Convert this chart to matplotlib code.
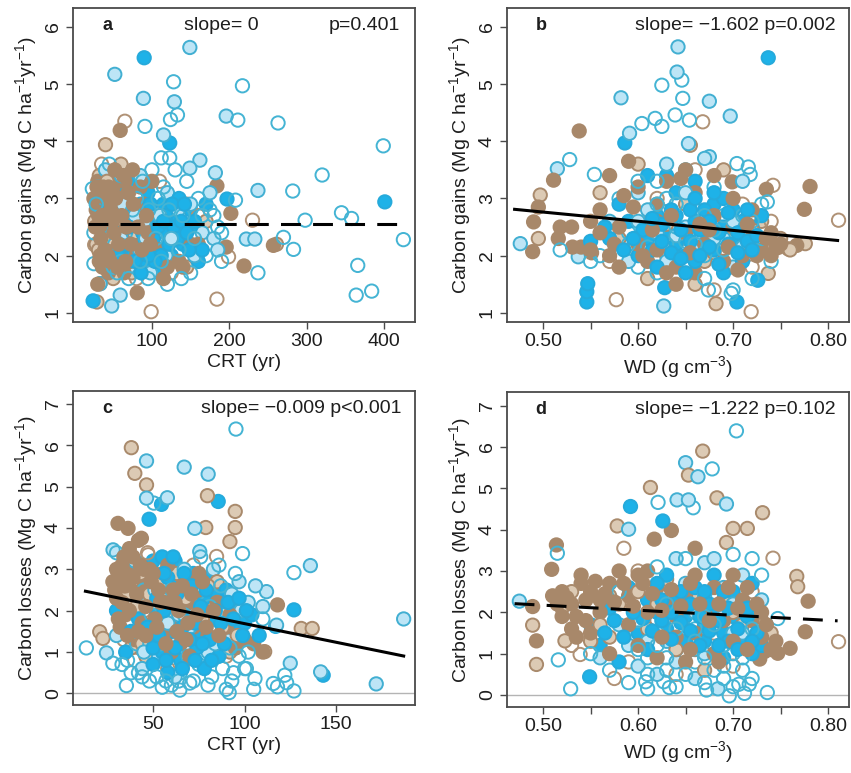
import numpy as np
import matplotlib.pyplot as plt

plt.rcParams['font.family'] = ['Liberation Sans', 'DejaVu Sans']
plt.rcParams['mathtext.fontset'] = 'custom'
plt.rcParams['mathtext.rm'] = 'Liberation Sans'
plt.rcParams['mathtext.it'] = 'Liberation Sans'

# ---- panel a: carbon gains vs CRT ----
a_brown_solid = [(59, 4.19), (184, 3.22), (202, 2.74), (257, 2.18), (196, 2.15), (219, 1.82), (81, 1.35), (33, 1.51),
                 (30, 3.3), (35, 3.1), (40, 2.9), (45, 3.4), (50, 3.2), (55, 3.5), (60, 3.0), (65, 3.3), (70, 2.8),
                 (38, 2.6), (42, 2.4), (48, 2.2), (52, 2.7), (58, 2.5), (62, 2.1), (68, 2.3), (72, 1.9), (78, 2.6),
                 (85, 3.2), (90, 2.9), (33, 2.0), (36, 1.8), (44, 1.7), (28, 2.8), (25, 3.0), (55, 1.9), (64, 1.7),
                 (80, 2.0), (95, 2.4), (110, 2.1), (120, 1.8), (135, 1.9), (150, 2.2), (160, 2.2), (30, 1.5),
                 (75, 3.5), (100, 3.3), (115, 1.6), (140, 1.8),
                 (27, 2.5), (31, 2.7), (34, 2.3), (37, 3.2), (41, 3.0), (43, 2.0), (47, 2.8), (51, 2.4), (53, 3.0),
                 (57, 2.2), (61, 2.7), (63, 3.4), (67, 2.5), (69, 3.1), (73, 2.2), (76, 2.9), (82, 2.5), (87, 2.1),
                 (93, 2.7), (98, 2.2), (32, 1.9), (39, 2.1), (46, 1.9), (56, 1.8), (66, 1.9), (29, 3.2), (44, 3.2),
                 (52, 3.5), (36, 2.7), (49, 2.6)]
a_brown_light = [(40, 3.94), (261, 2.20), (29, 1.19),
                 (32, 3.4), (46, 3.0), (58, 2.8), (40, 2.3), (66, 2.0), (88, 2.2), (105, 2.7), (125, 2.5), (145, 1.8),
                 (28, 2.2), (50, 1.6), (74, 1.7), (98, 1.9), (130, 2.9), (60, 3.6), (170, 2.6),
                 (26, 2.6), (35, 2.8), (45, 2.3), (54, 2.5), (63, 2.4), (77, 2.4), (84, 2.8), (95, 2.1), (42, 3.3),
                 (31, 2.1)]
a_brown_open = [(65, 4.35), (230, 2.62), (199, 1.98), (184, 1.24), (99, 1.02), (26, 2.19),
                (35, 3.6), (48, 2.5), (70, 3.1), (92, 2.0), (110, 3.3), (125, 1.7), (80, 1.6), (145, 2.9),
                (160, 2.7), (40, 1.9), (115, 2.3)]
a_cyan_solid = [(90, 5.46), (123, 3.97), (197, 2.99), (401, 2.94), (24, 1.21),
                (55, 3.2), (72, 3.3), (85, 2.9), (95, 3.1), (105, 2.6), (115, 2.9), (130, 2.7), (140, 2.2),
                (150, 2.8), (160, 1.9), (100, 2.0), (90, 1.8), (80, 2.3), (65, 2.6), (120, 2.4), (135, 3.0),
                (110, 1.7), (170, 2.9), (45, 2.9), (125, 2.0), (95, 2.5), (75, 2.0), (150, 2.5),
                (60, 2.4), (66, 2.2), (74, 2.7), (82, 2.0), (88, 2.4), (92, 2.2), (98, 2.9), (102, 2.3), (108, 2.5),
                (112, 2.0), (118, 2.7), (122, 2.2), (128, 2.5), (133, 2.3), (138, 2.6), (145, 2.4), (155, 2.6),
                (165, 2.1), (78, 1.9), (86, 1.7), (104, 1.9), (115, 2.6), (57, 2.0), (70, 2.5), (96, 2.0),
                (126, 2.9), (142, 2.9), (148, 2.1)]
a_cyan_light = [(52, 5.17), (149, 5.64), (89, 4.75), (129, 4.69), (196, 4.44), (115, 4.11), (162, 3.67),
                (149, 3.53), (182, 3.45), (237, 3.14), (222, 2.29), (233, 2.29), (59, 1.31), (48, 1.12), (33, 1.51),
                (40, 3.5), (60, 3.4), (85, 3.4), (100, 2.8), (120, 3.1), (140, 2.5), (165, 2.4), (180, 2.3),
                (70, 1.8), (110, 2.2), (130, 2.3), (155, 2.0), (50, 2.0), (90, 2.6), (175, 3.1), (185, 2.1),
                (60, 2.3), (38, 3.0),
                (62, 2.9), (78, 2.7), (92, 2.3), (106, 2.0), (118, 2.0), (134, 2.8), (150, 2.9), (98, 1.7),
                (84, 2.1), (110, 2.7), (125, 2.3)]
a_cyan_open = [(128, 5.04), (217, 4.97), (133, 4.46), (124, 4.38), (91, 4.26), (211, 4.37), (263, 4.32),
               (399, 3.92), (112, 3.71), (123, 3.71), (320, 3.41), (208, 2.97), (282, 3.13), (345, 2.75),
               (298, 2.62), (358, 2.65), (425, 2.28), (270, 2.32), (283, 2.11), (237, 1.70), (366, 1.83),
               (364, 1.31), (384, 1.38), (25, 1.86), (23, 3.17),
               (25, 2.4), (30, 3.2), (45, 3.6), (65, 2.9), (80, 3.0), (100, 3.5), (115, 3.2), (130, 3.5),
               (145, 3.3), (160, 3.0), (175, 2.8), (185, 2.5), (190, 1.9), (170, 2.0), (150, 1.7), (120, 1.5),
               (95, 1.6), (70, 1.6), (55, 1.7), (35, 2.5), (105, 2.3), (140, 2.7), (180, 2.7), (190, 2.4),
               (40, 2.7), (52, 2.2), (66, 2.4), (75, 2.8), (88, 3.3), (96, 2.8), (108, 3.0), (122, 2.8),
               (135, 2.1), (155, 2.3), (165, 2.7), (50, 1.8), (85, 1.9), (112, 1.9), (138, 1.6), (28, 2.9),
               (60, 1.9)]

# ---- panel b: carbon gains vs WD ----
b_brown_solid = [(0.538, 4.18), (0.699, 3.29), (0.781, 3.21), (0.775, 2.81), (0.735, 3.16), (0.767, 2.18),
                 (0.758, 2.12), (0.747, 2.14), (0.489, 2.07), (0.490, 2.59), (0.495, 2.85), (0.511, 3.32),
                 (0.518, 2.50), (0.516, 2.30), (0.531, 2.15), (0.540, 2.15), (0.551, 2.05),
                 (0.57, 3.4), (0.59, 3.65), (0.60, 3.2), (0.62, 2.9), (0.63, 3.3), (0.65, 3.5), (0.66, 3.1),
                 (0.68, 3.4), (0.70, 2.5), (0.72, 2.3), (0.73, 2.1), (0.56, 2.8), (0.58, 2.5), (0.60, 2.2),
                 (0.61, 1.9), (0.64, 1.8), (0.66, 1.7), (0.67, 2.2), (0.69, 1.9), (0.71, 2.0), (0.74, 2.4),
                 (0.75, 2.2), (0.55, 2.6), (0.57, 2.0), (0.62, 2.6), (0.65, 2.4), (0.68, 2.7), (0.70, 3.0),
                 (0.64, 1.5), (0.62, 2.1), (0.58, 1.8), (0.72, 2.8), (0.53, 2.5), (0.55, 2.1), (0.74, 2.0),
                 (0.575, 2.2), (0.595, 2.85), (0.615, 2.45), (0.635, 2.7), (0.655, 2.05), (0.675, 2.45),
                 (0.695, 2.15), (0.715, 2.55), (0.735, 2.3), (0.745, 2.15), (0.585, 3.05), (0.645, 3.35),
                 (0.665, 2.55), (0.705, 1.75), (0.725, 2.0), (0.56, 2.4), (0.605, 2.0), (0.63, 1.7)]
b_brown_light = [(0.776, 2.21), (0.737, 1.69), (0.682, 1.16), (0.495, 2.30), (0.497, 3.06), (0.655, 3.93),
                 (0.56, 3.1), (0.60, 3.6), (0.63, 2.0), (0.67, 1.9), (0.70, 2.2), (0.73, 2.6), (0.58, 2.3),
                 (0.65, 2.9), (0.69, 3.5), (0.61, 1.6), (0.76, 2.1), (0.66, 1.5),
                 (0.59, 2.1), (0.63, 2.55), (0.68, 2.05), (0.72, 2.45), (0.75, 2.3)]
b_brown_open = [(0.668, 4.34), (0.742, 3.23), (0.811, 2.62), (0.719, 1.02), (0.577, 1.23),
                (0.57, 1.9), (0.62, 3.0), (0.66, 3.5), (0.69, 2.4), (0.72, 1.8), (0.60, 2.7), (0.64, 2.2),
                (0.71, 2.9), (0.74, 2.6), (0.68, 1.4)]
b_cyan_solid = [(0.737, 5.46), (0.586, 3.97), (0.726, 1.57), (0.704, 1.19), (0.628, 1.44), (0.546, 1.19),
                (0.546, 1.37), (0.547, 1.51),
                (0.61, 3.4), (0.63, 3.4), (0.64, 3.1), (0.66, 3.3), (0.68, 2.9), (0.69, 3.0), (0.70, 2.8),
                (0.71, 2.6), (0.72, 2.5), (0.62, 2.7), (0.63, 2.4), (0.64, 2.2), (0.65, 2.0), (0.66, 2.6),
                (0.67, 2.3), (0.68, 2.1), (0.69, 2.5), (0.70, 2.2), (0.61, 2.3), (0.60, 2.0), (0.59, 2.6),
                (0.58, 2.9), (0.57, 2.3), (0.55, 2.25), (0.62, 1.8), (0.65, 1.7), (0.69, 1.7), (0.71, 1.9),
                (0.73, 2.7), (0.67, 2.8), (0.64, 2.7), (0.66, 1.9),
                (0.605, 2.45), (0.615, 2.1), (0.625, 2.55), (0.635, 2.05), (0.645, 2.45), (0.655, 2.25),
                (0.665, 2.45), (0.675, 2.15), (0.685, 2.4), (0.695, 2.2), (0.705, 2.4), (0.715, 2.25),
                (0.725, 2.35), (0.635, 2.8), (0.655, 2.8), (0.675, 2.6), (0.695, 2.75), (0.715, 2.8),
                (0.615, 2.65), (0.645, 1.95), (0.665, 2.0), (0.685, 1.85), (0.705, 2.05), (0.625, 2.25),
                (0.595, 2.3), (0.585, 2.1), (0.565, 2.5), (0.72, 2.1), (0.68, 3.1), (0.66, 3.0)]
b_cyan_light = [(0.642, 5.65), (0.641, 5.21), (0.582, 4.76), (0.675, 4.70), (0.697, 4.44), (0.591, 4.14),
                (0.653, 3.96), (0.515, 3.52), (0.675, 3.73), (0.627, 1.12), (0.476, 2.21), (0.537, 1.98),
                (0.60, 3.1), (0.63, 3.6), (0.65, 2.5), (0.67, 3.7), (0.69, 2.3), (0.71, 3.3), (0.59, 1.9),
                (0.62, 2.2), (0.64, 1.9), (0.68, 2.6), (0.72, 2.1), (0.57, 2.6), (0.66, 2.1), (0.70, 1.8),
                (0.61, 2.8),
                (0.62, 2.4), (0.64, 2.35), (0.66, 2.35), (0.68, 2.3), (0.70, 2.6), (0.63, 1.9), (0.67, 2.5),
                (0.71, 2.15), (0.60, 2.6), (0.65, 3.1)]
b_cyan_open = [(0.646, 5.07), (0.625, 4.98), (0.647, 4.75), (0.639, 4.46), (0.654, 4.37), (0.618, 4.40),
               (0.625, 4.26), (0.604, 4.31), (0.528, 3.68), (0.554, 3.42), (0.704, 3.61), (0.716, 3.55),
               (0.718, 3.42), (0.736, 2.94), (0.698, 1.34), (0.674, 1.40), (0.518, 2.10),
               (0.58, 3.0), (0.60, 1.8), (0.62, 1.7), (0.63, 3.0), (0.65, 3.5), (0.66, 2.8), (0.68, 3.2),
               (0.70, 2.0), (0.71, 2.4), (0.72, 1.6), (0.73, 2.9), (0.59, 2.4), (0.61, 2.5), (0.64, 2.5),
               (0.67, 2.0), (0.69, 2.7), (0.56, 2.0), (0.55, 1.9), (0.74, 1.9), (0.62, 3.3), (0.67, 1.6),
               (0.70, 1.4), (0.60, 3.3), (0.73, 2.3),
               (0.61, 2.15), (0.63, 2.2), (0.65, 2.25), (0.67, 2.7), (0.69, 2.1), (0.71, 2.7), (0.59, 2.2),
               (0.64, 2.9), (0.72, 2.6), (0.66, 2.2), (0.62, 2.9), (0.68, 2.45)]

# ---- panel c: carbon losses vs CRT ----
c_brown_solid = [(30.8, 4.11), (36.3, 3.99), (43.6, 3.75), (118, 2.14),
                 (30, 3.0), (33, 2.8), (36, 3.1), (38, 2.5), (40, 2.9), (42, 2.2), (45, 2.6), (48, 3.0),
                 (50, 2.3), (52, 2.8), (55, 2.0), (58, 2.6), (60, 2.9), (62, 1.8), (65, 2.4), (68, 2.8),
                 (70, 2.2), (72, 1.6), (75, 2.5), (78, 2.0), (80, 1.4), (85, 2.2), (88, 1.2), (90, 1.6),
                 (95, 1.1), (100, 1.3), (105, 1.2), (110, 1.0), (32, 1.6), (35, 1.9), (40, 1.3), (44, 1.7),
                 (48, 1.1), (55, 1.4), (60, 1.0), (65, 1.2), (70, 0.9), (30, 2.3), (34, 3.3), (28, 2.7),
                 (37, 3.5), (42, 3.7), (92, 1.9), (75, 2.9), (58, 3.1),
                 (29, 2.5), (31, 2.9), (33, 2.2), (35, 2.6), (37, 2.0), (39, 2.8), (41, 2.4), (43, 3.1),
                 (46, 2.1), (49, 2.7), (51, 1.8), (53, 2.5), (56, 2.9), (59, 2.2), (61, 2.5), (64, 2.0),
                 (66, 2.6), (69, 1.7), (71, 2.4), (74, 1.9), (77, 2.7), (79, 1.6), (83, 2.0), (86, 1.4),
                 (31, 1.8), (36, 1.4), (42, 1.5), (46, 1.4), (52, 1.6), (57, 1.2), (63, 1.5), (68, 1.3),
                 (33, 3.1), (39, 3.3), (45, 3.0), (50, 2.9), (54, 2.2), (62, 2.2)]
c_brown_light = [(38.1, 5.94), (40, 5.32), (46.4, 5.04), (79.7, 4.78), (94.9, 4.40), (78.8, 4.01),
                 (94.9, 4.01), (92, 3.67), (131, 1.57), (137, 1.57), (111, 1.01), (20.8, 1.49), (22.6, 1.33),
                 (31, 2.0), (36, 2.4), (43, 2.9), (50, 1.5), (57, 2.2), (63, 2.9), (70, 1.3), (77, 1.8),
                 (85, 2.7), (92, 1.0), (100, 1.9), (46, 0.9), (38, 1.1), (66, 0.7), (80, 2.6),
                 (34, 2.6), (41, 2.1), (48, 2.4), (55, 2.7), (61, 1.9), (68, 2.3), (74, 2.6), (88, 1.6),
                 (96, 1.4), (44, 1.2)]
c_brown_open = [(84.7, 3.31), (47.3, 3.35),
                (34, 1.3), (45, 2.0), (53, 3.2), (62, 2.5), (72, 3.1), (82, 1.2), (90, 0.9), (40, 0.8),
                (58, 0.6), (47, 3.4)]
c_cyan_solid = [(54.6, 4.57), (47.8, 4.21), (85.6, 4.64), (127, 2.02), (117, 1.62), (143, 0.44),
                (45, 2.9), (50, 3.2), (55, 3.3), (60, 2.7), (62, 3.2), (65, 2.1), (68, 2.5), (70, 1.9),
                (72, 2.9), (75, 1.5), (78, 2.3), (80, 2.8), (82, 1.8), (85, 2.4), (88, 2.2), (90, 2.5),
                (92, 1.5), (95, 2.0), (98, 1.6), (100, 1.7), (104, 1.9), (95, 1.1), (60, 1.5), (55, 1.0),
                (50, 0.7), (58, 0.5), (65, 0.8), (48, 1.3), (42, 1.8), (38, 1.5), (35, 1.0), (52, 1.9),
                (74, 1.1), (86, 0.9), (30, 2.0), (108, 1.4), (78, 0.6),
                (52, 2.3), (56, 2.0), (58, 2.8), (63, 2.4), (66, 1.6), (67, 2.9), (71, 2.6), (73, 1.7),
                (76, 2.1), (79, 2.5), (81, 1.3), (84, 2.0), (87, 1.7), (89, 1.2), (91, 2.2), (94, 1.8),
                (97, 2.3), (99, 1.4), (101, 2.0), (47, 1.6), (50, 1.1), (53, 1.4), (57, 0.8), (62, 1.1),
                (66, 0.6), (70, 1.3), (73, 0.8), (77, 1.2), (82, 0.8), (56, 2.9), (61, 3.3)]
c_cyan_light = [(46.4, 5.62), (67, 5.47), (80.1, 5.30), (46.4, 4.72), (57.8, 4.73), (72.8, 3.99), (75.5, 3.43),
                (28.1, 3.47), (136, 3.09), (112, 2.46), (187, 1.80), (117.5, 1.65), (141.6, 0.52), (125, 0.73),
                (172, 0.23), (24.5, 0.98),
                (47, 2.2), (57, 2.6), (67, 3.0), (73, 2.0), (83, 3.0), (97, 2.7), (102, 2.2), (106, 2.6),
                (60, 1.2), (70, 1.6), (80, 1.0), (90, 1.3), (53, 0.9), (44, 0.6), (62, 0.4), (110, 2.1),
                (30, 1.4), (40, 3.2),
                (51, 2.5), (64, 1.9), (76, 2.6), (88, 1.9), (93, 2.4), (58, 1.7), (69, 0.9), (84, 1.2),
                (98, 2.0), (45, 1.0)]
c_cyan_open = [(95.3, 6.39), (50.4, 4.6), (98.9, 3.38), (127, 2.92), (122, 0.44), (115.7, 0.24), (118, 0.16),
               (123, 0.26), (127, 0.06), (105.7, 0.36), (105, 0.10), (91.6, 0.02), (101, 0.6), (64.6, 0.08),
               (35.4, 0.19), (13.5, 1.10), (28, 0.73),
               (30, 3.4), (36, 0.8), (42, 0.5), (48, 0.3), (55, 0.15), (60, 0.2), (65, 0.5), (70, 0.25),
               (75, 0.7), (82, 0.4), (88, 0.6), (94, 0.5), (100, 0.6), (45, 2.5), (58, 2.0), (68, 1.2),
               (85, 1.5), (95, 2.9), (102, 1.0), (110, 1.8), (76, 3.3), (86, 3.1), (52, 0.4), (33, 0.7),
               (72, 0.3), (93, 0.3),
               (41, 1.2), (49, 1.9), (54, 1.2), (60, 2.5), (67, 1.9), (74, 2.4), (81, 2.1), (87, 2.6),
               (92, 1.1), (97, 0.9), (44, 0.4), (57, 0.3), (64, 0.3), (80, 0.2), (90, 0.1), (38, 0.5)]

# ---- panel d: carbon losses vs WD ----
d_brown_solid = [(0.635, 3.98), (0.617, 3.77), (0.660, 3.55), (0.514, 3.63), (0.509, 3.04), (0.489, 2.14),
                 (0.493, 1.31), (0.779, 2.27), (0.776, 1.53), (0.760, 1.13), (0.747, 1.01), (0.728, 0.87),
                 (0.733, 1.05),
                 (0.51, 2.4), (0.52, 1.9), (0.53, 2.2), (0.54, 2.7), (0.55, 2.5), (0.53, 1.6), (0.55, 1.5),
                 (0.56, 2.0), (0.57, 2.7), (0.58, 3.0), (0.59, 2.4), (0.60, 2.9), (0.61, 3.0), (0.62, 2.6),
                 (0.63, 2.2), (0.64, 1.9), (0.65, 2.4), (0.66, 1.5), (0.67, 2.0), (0.68, 2.6), (0.69, 1.8),
                 (0.70, 2.9), (0.71, 2.3), (0.72, 1.8), (0.73, 1.4), (0.74, 1.1), (0.60, 1.2), (0.62, 0.9),
                 (0.65, 0.8), (0.68, 1.0), (0.64, 1.4), (0.57, 1.0), (0.59, 1.7), (0.54, 2.9), (0.52, 2.5),
                 (0.56, 2.3), (0.61, 2.0), (0.70, 1.3), (0.73, 2.0), (0.66, 2.9),
                 (0.515, 2.2), (0.525, 2.35), (0.535, 1.9), (0.545, 2.3), (0.555, 2.75), (0.565, 2.45),
                 (0.575, 2.25), (0.585, 2.7), (0.595, 2.15), (0.605, 2.7), (0.615, 2.45), (0.625, 2.05),
                 (0.635, 2.55), (0.645, 2.15), (0.655, 2.7), (0.665, 2.2), (0.675, 1.8), (0.685, 2.2),
                 (0.695, 2.6), (0.705, 2.1), (0.715, 2.6), (0.725, 2.2), (0.735, 1.7), (0.745, 1.3),
                 (0.535, 1.4), (0.545, 1.8), (0.625, 1.4), (0.655, 1.1), (0.685, 0.8), (0.715, 1.1)]
d_brown_light = [(0.668, 5.90), (0.653, 5.32), (0.613, 5.02), (0.683, 4.77), (0.731, 4.41), (0.578, 4.09),
                 (0.700, 4.03), (0.715, 4.03), (0.693, 3.69), (0.489, 1.69), (0.493, 0.74), (0.523, 1.31),
                 (0.767, 2.87), (0.768, 2.62),
                 (0.52, 2.1), (0.55, 1.3), (0.58, 2.2), (0.61, 1.6), (0.63, 2.8), (0.66, 1.1), (0.69, 2.3),
                 (0.71, 1.7), (0.74, 1.5), (0.67, 0.6), (0.60, 2.5), (0.57, 1.4),
                 (0.53, 2.5), (0.57, 2.4), (0.62, 2.2), (0.66, 2.4), (0.70, 2.0), (0.73, 1.8), (0.56, 1.7),
                 (0.64, 1.1)]
d_brown_open = [(0.585, 3.55), (0.742, 3.31), (0.539, 0.98), (0.575, 0.40), (0.811, 1.29),
                (0.53, 1.2), (0.56, 2.6), (0.59, 0.8), (0.62, 1.8), (0.65, 2.6), (0.68, 1.5), (0.72, 2.5),
                (0.70, 0.7), (0.64, 0.5), (0.60, 3.0)]
d_cyan_solid = [(0.592, 4.56), (0.626, 4.21), (0.549, 0.44),
                (0.55, 1.7), (0.56, 1.2), (0.57, 2.1), (0.59, 2.6), (0.60, 1.5), (0.61, 2.3), (0.62, 2.0),
                (0.63, 1.6), (0.64, 2.3), (0.65, 1.9), (0.66, 2.2), (0.67, 1.7), (0.68, 2.1), (0.69, 1.5),
                (0.70, 1.9), (0.71, 1.2), (0.72, 1.0), (0.73, 1.2), (0.63, 2.9), (0.65, 1.3), (0.67, 1.3),
                (0.68, 2.9), (0.70, 2.5), (0.72, 2.7), (0.61, 1.1), (0.58, 0.8), (0.66, 2.6), (0.69, 0.9),
                (0.62, 2.7), (0.64, 1.1),
                (0.605, 1.85), (0.615, 1.55), (0.625, 1.8), (0.635, 2.0), (0.645, 1.75), (0.655, 1.55),
                (0.665, 1.9), (0.675, 1.55), (0.685, 1.8), (0.695, 2.1), (0.705, 1.6), (0.715, 1.9),
                (0.725, 1.5), (0.635, 1.35), (0.655, 2.2), (0.675, 2.2), (0.695, 1.3), (0.715, 2.1),
                (0.625, 2.3), (0.645, 2.5), (0.665, 1.2), (0.685, 1.2), (0.705, 1.1), (0.585, 1.4),
                (0.595, 2.0), (0.565, 1.5), (0.575, 1.8), (0.72, 1.3), (0.67, 2.5), (0.69, 2.5)]
d_cyan_light = [(0.650, 5.62), (0.663, 5.28), (0.641, 4.72), (0.653, 4.72), (0.693, 4.62), (0.590, 4.01),
                (0.475, 2.27), (0.684, 0.15),
                (0.56, 0.9), (0.58, 1.7), (0.60, 0.7), (0.63, 1.3), (0.65, 2.7), (0.67, 3.2), (0.69, 2.6),
                (0.71, 2.9), (0.73, 2.3), (0.62, 0.5), (0.66, 0.4), (0.70, 1.5), (0.64, 3.3), (0.68, 3.3),
                (0.59, 1.2),
                (0.61, 1.3), (0.63, 1.9), (0.65, 1.6), (0.67, 1.0), (0.69, 1.9), (0.71, 1.5), (0.66, 2.0),
                (0.62, 1.5), (0.70, 2.2), (0.64, 0.8)]
d_cyan_open = [(0.7035, 6.39), (0.678, 5.47), (0.621, 4.66), (0.658, 4.53), (0.515, 3.43), (0.516, 0.85),
               (0.529, 0.15), (0.747, 1.85), (0.736, 0.06), (0.696, -0.02), (0.712, 0.04), (0.706, 0.26),
               (0.717, 0.26), (0.672, 0.12), (0.633, 0.18), (0.627, 0.32), (0.610, 0.15), (0.608, 0.32),
               (0.57, 0.6), (0.59, 0.3), (0.61, 0.9), (0.63, 0.6), (0.64, 0.2), (0.66, 0.8), (0.67, 0.3),
               (0.68, 0.6), (0.69, 0.4), (0.70, 0.2), (0.71, 0.6), (0.72, 0.4), (0.55, 1.0), (0.62, 3.1),
               (0.65, 3.3), (0.67, 2.4), (0.70, 3.4), (0.72, 3.3), (0.60, 1.8), (0.66, 1.6), (0.73, 2.9),
               (0.58, 2.5), (0.63, 0.9), (0.69, 1.2),
               (0.60, 1.1), (0.62, 1.2), (0.64, 1.6), (0.66, 1.3), (0.68, 1.7), (0.70, 1.0), (0.72, 1.6),
               (0.65, 0.5), (0.67, 0.9), (0.69, 0.7), (0.71, 0.9), (0.61, 0.5), (0.63, 2.2), (0.67, 1.9)]

# regression lines: intercept, slope, x range, dashed?
fit_intercept = [2.55, 3.563, 2.587, 2.784]
fit_slope = [0.0, -1.602, -0.009, -1.222]
fit_xrange = [(18, 425), (0.47, 0.81), (13, 187), (0.47, 0.81)]
fit_dashed = [True, False, False, True]
slope_text = ['slope= 0', 'slope= \u22121.602 p=0.002', 'slope= \u22120.009 p<0.001', 'slope= \u22121.222 p=0.102']
panel_letters = ['a', 'b', 'c', 'd']

# marker looks: (face, edge)
looks = {
    'brown_solid': ('#a8886a', '#a8886a'),
    'brown_light': ('#dccab4', '#a98a6c'),
    'brown_open': ('none', '#b09276'),
    'cyan_solid': ('#1eb2e8', '#26aadb'),
    'cyan_light': ('#bde5f6', '#42afd2'),
    'cyan_open': ('none', '#44b4d4'),
}
draw_order = ['brown_open', 'cyan_open', 'brown_light', 'cyan_light', 'brown_solid', 'cyan_solid']

panels = [
    dict(brown_solid=a_brown_solid, brown_light=a_brown_light, brown_open=a_brown_open,
         cyan_solid=a_cyan_solid, cyan_light=a_cyan_light, cyan_open=a_cyan_open),
    dict(brown_solid=b_brown_solid, brown_light=b_brown_light, brown_open=b_brown_open,
         cyan_solid=b_cyan_solid, cyan_light=b_cyan_light, cyan_open=b_cyan_open),
    dict(brown_solid=c_brown_solid, brown_light=c_brown_light, brown_open=c_brown_open,
         cyan_solid=c_cyan_solid, cyan_light=c_cyan_light, cyan_open=c_cyan_open),
    dict(brown_solid=d_brown_solid, brown_light=d_brown_light, brown_open=d_brown_open,
         cyan_solid=d_cyan_solid, cyan_light=d_cyan_light, cyan_open=d_cyan_open),
]

W, H = 851, 773
fig = plt.figure(figsize=(W / 100, H / 100), dpi=100)
boxes = [(73, 8, 415, 322), (507, 8, 849, 322), (73, 391, 415, 705), (507, 392, 849, 707)]
xlims = [(-2, 440), (0.462, 0.822), (6.2, 193.2), (0.462, 0.822)]
ylims = [(0.84, 6.33), (0.84, 6.33), (-0.28, 7.31), (-0.29, 7.33)]
frame = '#4a4a4a'
txt = '#1e1e1e'

for i, pts in enumerate(panels):
    l, t, r, b = boxes[i]
    ax = fig.add_axes([l / W, 1 - b / H, (r - l) / W, (b - t) / H])
    ax.set_xlim(*xlims[i])
    ax.set_ylim(*ylims[i])

    if i >= 2:
        ax.axhline(0, color='#b4b4b4', lw=1, zorder=1)

    # interleave the groups so the colours mix like in the original
    xs, ys, fcs, ecs = [], [], [], []
    n_max = max(len(pts[k]) for k in draw_order)
    for j in range(n_max):
        for key in draw_order:
            if j < len(pts[key]):
                fc, ec = looks[key]
                xs.append(pts[key][j][0])
                ys.append(pts[key][j][1])
                fcs.append(fc)
                ecs.append(ec)
    ax.scatter(xs, ys, s=92, facecolors=fcs, edgecolors=ecs, linewidths=1.4, zorder=2)

    x0, x1 = fit_xrange[i]
    fx = np.array([x0, x1])
    fy = fit_intercept[i] + fit_slope[i] * fx
    if fit_dashed[i]:
        ax.plot(fx, fy, color='black', lw=2.2, dashes=(6.5, 4), zorder=3)
    else:
        ax.plot(fx, fy, color='black', lw=2.2, zorder=3)

    ax.text(0.10, 0.945, panel_letters[i], transform=ax.transAxes, fontsize=13, fontweight='bold',
            ha='center', va='center', color=txt)
    if i == 0:
        ax.text(0.435, 0.945, slope_text[i], transform=ax.transAxes, fontsize=14, ha='center', va='center', color=txt)
        ax.text(0.955, 0.945, 'p=0.401', transform=ax.transAxes, fontsize=14, ha='right', va='center', color=txt)
    else:
        ax.text(0.96, 0.945, slope_text[i], transform=ax.transAxes, fontsize=14, ha='right', va='center', color=txt)

    for sp in ax.spines.values():
        sp.set_color(frame)
        sp.set_linewidth(1.3)
    ax.tick_params(direction='out', length=5, width=1, color=frame, labelsize=14, labelcolor=txt, pad=3)
    ax.tick_params(axis='y', labelrotation=90)

    if i in (0, 1):
        ax.set_yticks([1, 2, 3, 4, 5, 6])
        ax.set_ylabel('Carbon gains (Mg C ha$^{\\mathregular{-1}}$yr$^{\\mathregular{-1}}$)', fontsize=14,
                      color=txt, labelpad=4)
    else:
        ax.set_yticks([0, 1, 2, 3, 4, 5, 6, 7])
        ax.set_ylabel('Carbon losses (Mg C ha$^{\\mathregular{-1}}$yr$^{\\mathregular{-1}}$)', fontsize=14,
                      color=txt, labelpad=4)
    for lab in ax.get_yticklabels():
        lab.set_va('center')

    if i == 0:
        ax.set_xticks([100, 200, 300, 400])
        ax.set_xlabel('CRT (yr)', fontsize=14, color=txt, labelpad=3)
    elif i == 2:
        ax.set_xticks([50, 100, 150])
        ax.set_xlabel('CRT (yr)', fontsize=14, color=txt, labelpad=3)
    else:
        ax.set_xticks([0.50, 0.55, 0.60, 0.65, 0.70, 0.75, 0.80])
        ax.set_xticklabels(['0.50', '', '0.60', '', '0.70', '', '0.80'])
        ax.set_xlabel('WD (g cm$^{\\mathregular{-3}}$)', fontsize=14, color=txt, labelpad=3)

fig.savefig('out.png', dpi=100)
